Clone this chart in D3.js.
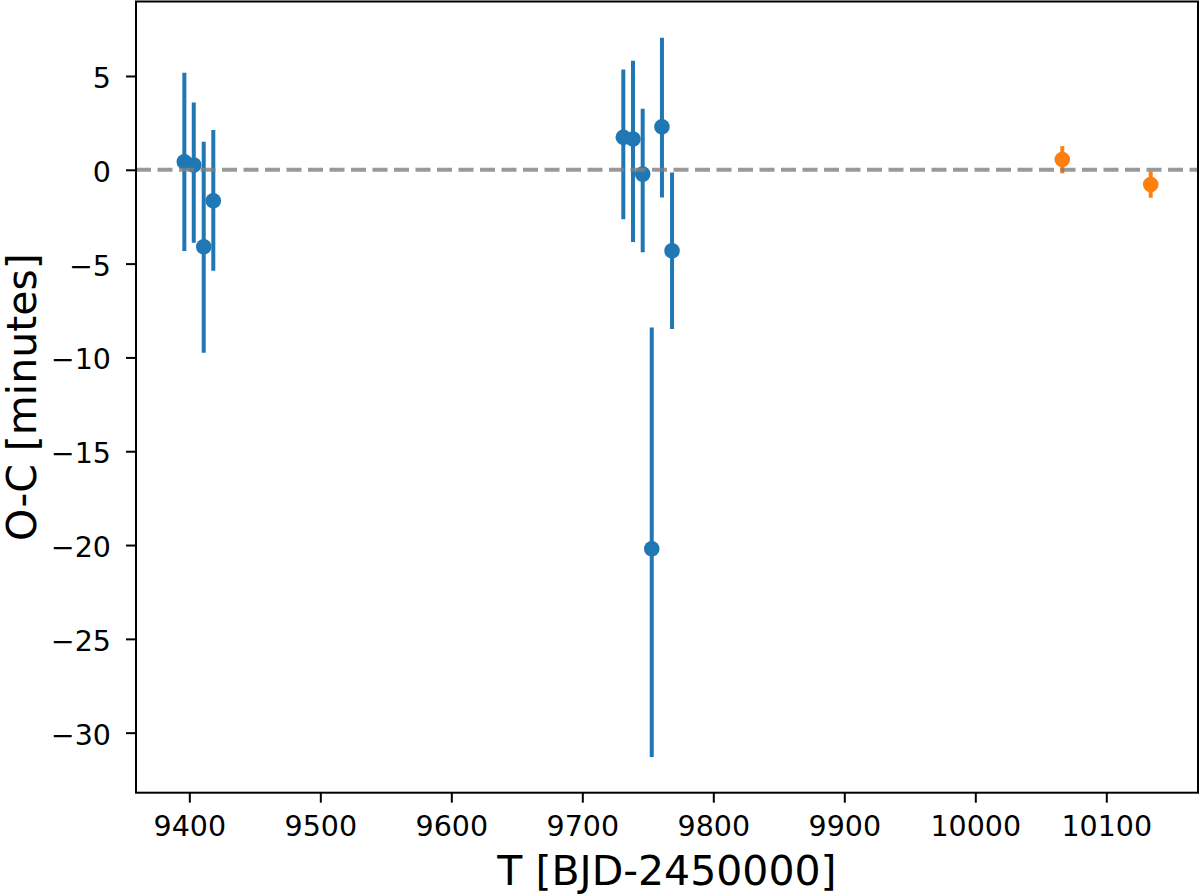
<!DOCTYPE html>
<html>
<head>
<meta charset="utf-8">
<script src="https://cdn.jsdelivr.net/npm/d3@7"></script>
<style>
  html, body { margin: 0; padding: 0; background: #fff; }
  svg { display: block; font-family: "DejaVu Sans", sans-serif; }
</style>
</head>
<body>
<svg id="chart" width="1200" height="896"></svg>
<script>
// ---- data ----
const blueT  = [9396.2, 9403.4, 9411.0, 9418.3, 9731.3, 9738.7, 9746.1, 9753.0, 9760.8, 9768.5];
const blueOC = [0.43, 0.25, -4.10, -1.65, 1.73, 1.64, -0.23, -20.20, 2.29, -4.32];
const blueLo = [-4.33, -3.89, -9.75, -5.38, -2.63, -3.85, -4.40, -31.30, -1.47, -8.49];
const blueHi = [5.17, 3.59, 1.49, 2.12, 5.35, 5.81, 3.25, -8.40, 7.04, -0.14];

const orangeT  = [10066.4, 10133.9];
const orangeOC = [0.55, -0.78];
const orangeLo = [-0.19, -1.49];
const orangeHi = [1.26, -0.10];

const xTicks = [9400, 9500, 9600, 9700, 9800, 9900, 10000, 10100];
const yTicks = [-30, -25, -20, -15, -10, -5, 0, 5];
const xLabel = "T [BJD-2450000]";
const yLabel = "O-C [minutes]";

// ---- layout ----
const svg = d3.select("#chart");
const pLeft = 136, pRight = 1198, pTop = 1.5, pBottom = 792.7;

const x = d3.scaleLinear().domain([9359.3, 10170.0]).range([pLeft, pRight]);
const y = d3.scaleLinear().domain([8.97, -33.2]).range([pTop, pBottom]);

const fmt = d => (d < 0 ? "\u2212" + Math.abs(d) : String(d));

// series drawing
function drawSeries(T, OC, Lo, Hi, color) {
  const g = svg.append("g");
  const data = T.map((t, i) => ({ t, v: OC[i], lo: Lo[i], hi: Hi[i] }));
  g.selectAll("line.err").data(data).join("line")
    .attr("class", "err")
    .attr("x1", d => x(d.t)).attr("x2", d => x(d.t))
    .attr("y1", d => y(d.lo)).attr("y2", d => y(d.hi))
    .attr("stroke", color).attr("stroke-width", 4);
  g.selectAll("circle").data(data).join("circle")
    .attr("cx", d => x(d.t)).attr("cy", d => y(d.v))
    .attr("r", 7.8).attr("fill", color);
}
drawSeries(blueT, blueOC, blueLo, blueHi, "#1f77b4");
drawSeries(orangeT, orangeOC, orangeLo, orangeHi, "#ff7f0e");

// zero reference line
svg.append("line")
  .attr("x1", pLeft).attr("x2", pRight)
  .attr("y1", y(0)).attr("y2", y(0))
  .attr("stroke", "#808080").attr("stroke-opacity", 0.8)
  .attr("stroke-width", 4).attr("stroke-dasharray", "15,6.5");

// axes
const xAxis = svg.append("g")
  .attr("transform", `translate(0,${pBottom})`)
  .call(d3.axisBottom(x).tickValues(xTicks).tickFormat(fmt)
    .tickSize(10).tickSizeOuter(0).tickPadding(13));
const yAxis = svg.append("g")
  .attr("transform", `translate(${pLeft},0)`)
  .call(d3.axisLeft(y).tickValues(yTicks).tickFormat(fmt)
    .tickSize(10).tickSizeOuter(0).tickPadding(15));

[xAxis, yAxis].forEach(a => {
  a.select(".domain").remove();
  a.selectAll(".tick line").attr("stroke", "#000").attr("stroke-width", 2);
  a.selectAll(".tick text")
    .attr("fill", "#000")
    .style("font-size", "28.5px")
    .style("font-family", "'DejaVu Sans', sans-serif");
});
yAxis.selectAll(".tick text").attr("dy", "0.4em");

// frame
svg.append("rect")
  .attr("x", pLeft).attr("y", pTop)
  .attr("width", pRight - pLeft).attr("height", pBottom - pTop)
  .attr("fill", "none").attr("stroke", "#000").attr("stroke-width", 2);

// axis labels
svg.append("text")
  .attr("x", (pLeft + pRight) / 2).attr("y", 885)
  .attr("text-anchor", "middle")
  .style("font-size", "41px")
  .text(xLabel);
svg.append("text")
  .attr("transform", `translate(35.5,${(pTop + pBottom) / 2}) rotate(-90)`)
  .attr("text-anchor", "middle")
  .style("font-size", "41px")
  .text(yLabel);
</script>
</body>
</html>
